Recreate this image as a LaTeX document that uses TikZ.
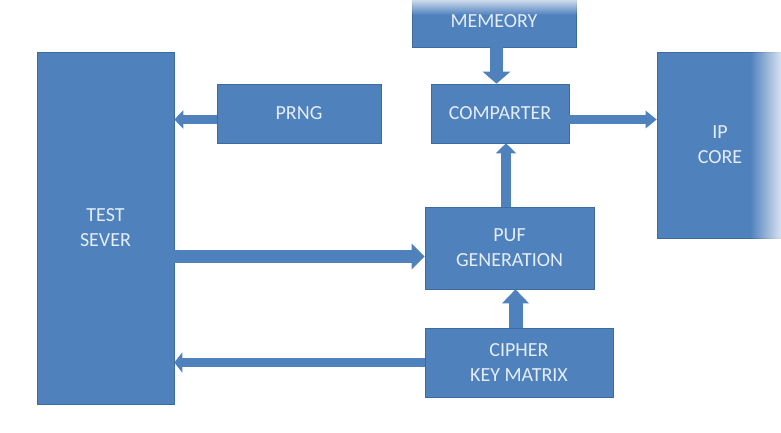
\documentclass[tikz,border=0pt]{standalone}
\usepackage{fontspec}
\setmainfont{Carlito}
\usepackage{xcolor}
\usetikzlibrary{arrows.meta,fadings}
\usetikzlibrary{positioning}
\definecolor{boxblue}{HTML}{4F81BD}
\definecolor{boxline}{HTML}{3E6B9F}
\definecolor{boxtext}{HTML}{E4EDF8}

\begin{document}
\begin{tikzpicture}[x=1pt, y=-1pt, semithick]
 	  \tikzstyle{blk}=[fill=boxblue, draw=boxline, text=boxtext, align=center, inner sep=0pt, font=\fontsize{20}{25}\selectfont]
 	  \tikzstyle{bar}=[draw=boxblue]
\useasboundingbox (0,0) rectangle (781,432);
    \node[blk, minimum width=137pt, minimum height=352pt] (test) at (105.5,228) {TEST\\SEVER};
    \node[blk, minimum width=164pt, minimum height=59pt] (prng) at (299,113.5) {PRNG};
    \node[blk, minimum width=164pt, minimum height=52pt] (mem) at (494,21) {MEMEORY};
    \node[blk, minimum width=138pt, minimum height=59pt] (comp) at (500,113.5) {COMPARTER};
    \node[blk, minimum width=126pt, minimum height=186pt] (ip) at (720,145) {IP\\CORE};
    \node[blk, minimum width=169pt, minimum height=82pt] (puf) at (509.5,248) {PUF\\GENERATION};
    \node[blk, minimum width=188pt, minimum height=69pt] (cipher) at (519,362.5) {CIPHER\\KEY MATRIX};
% faded edges
\fill[white, path fading=south] (405,-6) rectangle (583,15);
\fill[white, path fading=west] (750,45) rectangle (790,245);
% arrows
\draw[bar, line width=9pt, -{Triangle[width=18pt,length=9pt]}] ([yshift=-6pt]prng.west) -- ([yshift=-6pt]prng.west -| test.east);
\draw[bar, line width=9pt, -{Triangle[width=17pt,length=11pt]}] ([yshift=-6pt]comp.east) -- ([yshift=-6pt]comp.east -| ip.west);
\draw[bar, line width=13pt, -{Triangle[width=27pt,length=12pt]}] ([xshift=2.5pt]mem.south) -- ([xshift=2.5pt]mem.south |- comp.north);
\draw[bar, line width=10pt, -{Triangle[width=20pt,length=10pt]}] ([xshift=-3.5pt]puf.north) -- ([xshift=-3.5pt]puf.north |- comp.south);
\draw[bar, line width=13pt, -{Triangle[width=25pt,length=13pt]}] ([yshift=-8.5pt]puf.west -| test.east) -- ([yshift=-8.5pt]puf.west);
\draw[bar, line width=14pt, -{Triangle[width=26pt,length=14pt]}] ([xshift=-3.5pt]cipher.north) -- ([xshift=-3.5pt]cipher.north |- puf.south);
\draw[bar, line width=9pt, -{Triangle[width=20pt,length=8pt]}] (cipher.west) -- (cipher.west -| test.east);
   \end{tikzpicture}
\end{document}
